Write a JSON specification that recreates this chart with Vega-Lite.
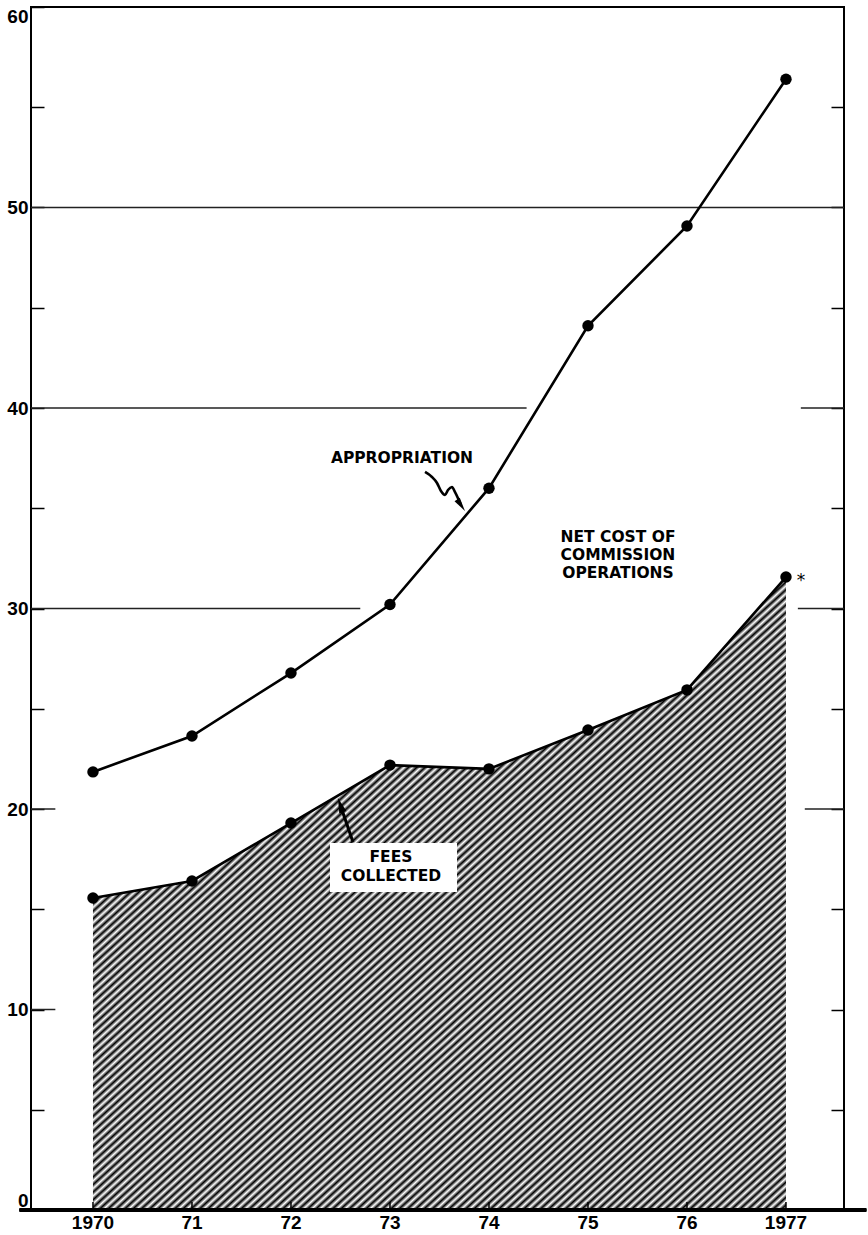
{
  "$schema": "https://vega.github.io/schema/vega-lite/v6.json",
  "width": 813,
  "height": 1203,
  "autosize": {"type": "none"},
  "padding": {"left": 31, "top": 7, "right": 24, "bottom": 25},
  "background": "white",
  "config": {
    "view": {"stroke": "black", "strokeWidth": 2},
    "axis": {
      "labelFont": "Liberation Sans Narrow, Liberation Sans, sans-serif",
      "labelFontWeight": "bold",
      "labelFontSize": 19,
      "labelColor": "black",
      "tickColor": "black",
      "domain": false,
      "grid": false,
      "title": null
    }
  },
  "datasets": {
    "series": [
      {"year": 1970, "label": "1970", "appropriation": 21.85, "fees": 15.56},
      {"year": 1971, "label": "71", "appropriation": 23.64, "fees": 16.41},
      {"year": 1972, "label": "72", "appropriation": 26.78, "fees": 19.3},
      {"year": 1973, "label": "73", "appropriation": 30.2, "fees": 22.19},
      {"year": 1974, "label": "74", "appropriation": 36.0, "fees": 22.0},
      {"year": 1975, "label": "75", "appropriation": 44.1, "fees": 23.94},
      {"year": 1976, "label": "76", "appropriation": 49.08, "fees": 25.94},
      {"year": 1977, "label": "1977", "appropriation": 56.4, "fees": 31.57}
    ],
    "grid": [
      {"y": 50, "x1": 1969.374, "x2": 1977.586},
      {"y": 40, "x1": 1969.374, "x2": 1974.38},
      {"y": 40, "x1": 1977.15, "x2": 1977.586},
      {"y": 30, "x1": 1969.374, "x2": 1972.7},
      {"y": 30, "x1": 1977.12, "x2": 1977.586},
      {"y": 20, "x1": 1969.374, "x2": 1969.62},
      {"y": 20, "x1": 1977.19, "x2": 1977.586},
      {"y": 10, "x1": 1969.374, "x2": 1969.62}
    ],
    "box": [{"x1": 1972.394, "x2": 1973.677, "y1": 18.3, "y2": 15.86}],
    "notes": [
      {"x": 1973.121, "y": 37.53, "label": "APPROPRIATION"},
      {"x": 1975.303, "y": 33.58, "label": "NET COST OF"},
      {"x": 1975.303, "y": 32.68, "label": "COMMISSION"},
      {"x": 1975.303, "y": 31.78, "label": "OPERATIONS"},
      {"x": 1973.01, "y": 17.6, "label": "FEES"},
      {"x": 1973.01, "y": 16.66, "label": "COLLECTED"}
    ],
    "squiggle": [
      {"i": 0, "x": 1973.354, "y": 36.81},
      {"i": 1, "x": 1973.424, "y": 36.56},
      {"i": 2, "x": 1973.475, "y": 36.26},
      {"i": 3, "x": 1973.515, "y": 35.86},
      {"i": 4, "x": 1973.556, "y": 35.66},
      {"i": 5, "x": 1973.586, "y": 35.91},
      {"i": 6, "x": 1973.626, "y": 36.06},
      {"i": 7, "x": 1973.657, "y": 35.81},
      {"i": 8, "x": 1973.717, "y": 35.16}
    ],
    "feesArrow": [
      {"i": 0, "x": 1972.626, "y": 18.35},
      {"i": 1, "x": 1972.499, "y": 20.19}
    ],
    "headA": [{"x": 1973.718, "y": 35.15}],
    "headF": [{"x": 1972.499, "y": 20.19}]
  },
  "layer": [
    {
      "data": {"name": "series"},
      "mark": {
        "type": "area",
        "fillOpacity": 1,
        "fill": {
          "gradient": "linear",
          "x1": 0, "y1": 0, "x2": 1, "y2": 1,
          "stops": [
{"offset":0,"color":"#000"},{"offset":0.003,"color":"#fff"},{"offset":0.006,"color":"#000"},{"offset":0.009,"color":"#fff"},{"offset":0.012,"color":"#000"},{"offset":0.015,"color":"#fff"},{"offset":0.018,"color":"#000"},{"offset":0.021,"color":"#fff"},{"offset":0.024,"color":"#000"},{"offset":0.027,"color":"#fff"},
{"offset":0.03,"color":"#000"},{"offset":0.033,"color":"#fff"},{"offset":0.036,"color":"#000"},{"offset":0.039,"color":"#fff"},{"offset":0.042,"color":"#000"},{"offset":0.045,"color":"#fff"},{"offset":0.048,"color":"#000"},{"offset":0.051,"color":"#fff"},{"offset":0.054,"color":"#000"},{"offset":0.057,"color":"#fff"},
{"offset":0.06,"color":"#000"},{"offset":0.063,"color":"#fff"},{"offset":0.066,"color":"#000"},{"offset":0.069,"color":"#fff"},{"offset":0.072,"color":"#000"},{"offset":0.075,"color":"#fff"},{"offset":0.078,"color":"#000"},{"offset":0.081,"color":"#fff"},{"offset":0.084,"color":"#000"},{"offset":0.087,"color":"#fff"},
{"offset":0.09,"color":"#000"},{"offset":0.093,"color":"#fff"},{"offset":0.096,"color":"#000"},{"offset":0.099,"color":"#fff"},{"offset":0.102,"color":"#000"},{"offset":0.105,"color":"#fff"},{"offset":0.108,"color":"#000"},{"offset":0.111,"color":"#fff"},{"offset":0.114,"color":"#000"},{"offset":0.117,"color":"#fff"},
{"offset":0.12,"color":"#000"},{"offset":0.123,"color":"#fff"},{"offset":0.126,"color":"#000"},{"offset":0.129,"color":"#fff"},{"offset":0.132,"color":"#000"},{"offset":0.135,"color":"#fff"},{"offset":0.138,"color":"#000"},{"offset":0.141,"color":"#fff"},{"offset":0.144,"color":"#000"},{"offset":0.147,"color":"#fff"},
{"offset":0.15,"color":"#000"},{"offset":0.153,"color":"#fff"},{"offset":0.156,"color":"#000"},{"offset":0.159,"color":"#fff"},{"offset":0.162,"color":"#000"},{"offset":0.165,"color":"#fff"},{"offset":0.168,"color":"#000"},{"offset":0.171,"color":"#fff"},{"offset":0.174,"color":"#000"},{"offset":0.177,"color":"#fff"},
{"offset":0.18,"color":"#000"},{"offset":0.183,"color":"#fff"},{"offset":0.186,"color":"#000"},{"offset":0.189,"color":"#fff"},{"offset":0.192,"color":"#000"},{"offset":0.195,"color":"#fff"},{"offset":0.198,"color":"#000"},{"offset":0.201,"color":"#fff"},{"offset":0.204,"color":"#000"},{"offset":0.207,"color":"#fff"},
{"offset":0.21,"color":"#000"},{"offset":0.213,"color":"#fff"},{"offset":0.216,"color":"#000"},{"offset":0.219,"color":"#fff"},{"offset":0.222,"color":"#000"},{"offset":0.225,"color":"#fff"},{"offset":0.228,"color":"#000"},{"offset":0.231,"color":"#fff"},{"offset":0.234,"color":"#000"},{"offset":0.237,"color":"#fff"},
{"offset":0.24,"color":"#000"},{"offset":0.243,"color":"#fff"},{"offset":0.246,"color":"#000"},{"offset":0.249,"color":"#fff"},{"offset":0.252,"color":"#000"},{"offset":0.255,"color":"#fff"},{"offset":0.258,"color":"#000"},{"offset":0.261,"color":"#fff"},{"offset":0.264,"color":"#000"},{"offset":0.267,"color":"#fff"},
{"offset":0.27,"color":"#000"},{"offset":0.273,"color":"#fff"},{"offset":0.276,"color":"#000"},{"offset":0.279,"color":"#fff"},{"offset":0.282,"color":"#000"},{"offset":0.285,"color":"#fff"},{"offset":0.288,"color":"#000"},{"offset":0.291,"color":"#fff"},{"offset":0.294,"color":"#000"},{"offset":0.297,"color":"#fff"},
{"offset":0.3,"color":"#000"},{"offset":0.303,"color":"#fff"},{"offset":0.306,"color":"#000"},{"offset":0.309,"color":"#fff"},{"offset":0.312,"color":"#000"},{"offset":0.315,"color":"#fff"},{"offset":0.318,"color":"#000"},{"offset":0.321,"color":"#fff"},{"offset":0.324,"color":"#000"},{"offset":0.327,"color":"#fff"},
{"offset":0.33,"color":"#000"},{"offset":0.333,"color":"#fff"},{"offset":0.336,"color":"#000"},{"offset":0.339,"color":"#fff"},{"offset":0.342,"color":"#000"},{"offset":0.345,"color":"#fff"},{"offset":0.348,"color":"#000"},{"offset":0.351,"color":"#fff"},{"offset":0.354,"color":"#000"},{"offset":0.357,"color":"#fff"},
{"offset":0.36,"color":"#000"},{"offset":0.363,"color":"#fff"},{"offset":0.366,"color":"#000"},{"offset":0.369,"color":"#fff"},{"offset":0.372,"color":"#000"},{"offset":0.375,"color":"#fff"},{"offset":0.378,"color":"#000"},{"offset":0.381,"color":"#fff"},{"offset":0.384,"color":"#000"},{"offset":0.387,"color":"#fff"},
{"offset":0.39,"color":"#000"},{"offset":0.393,"color":"#fff"},{"offset":0.396,"color":"#000"},{"offset":0.399,"color":"#fff"},{"offset":0.402,"color":"#000"},{"offset":0.405,"color":"#fff"},{"offset":0.408,"color":"#000"},{"offset":0.411,"color":"#fff"},{"offset":0.414,"color":"#000"},{"offset":0.417,"color":"#fff"},
{"offset":0.42,"color":"#000"},{"offset":0.423,"color":"#fff"},{"offset":0.426,"color":"#000"},{"offset":0.429,"color":"#fff"},{"offset":0.432,"color":"#000"},{"offset":0.435,"color":"#fff"},{"offset":0.438,"color":"#000"},{"offset":0.441,"color":"#fff"},{"offset":0.444,"color":"#000"},{"offset":0.447,"color":"#fff"},
{"offset":0.45,"color":"#000"},{"offset":0.453,"color":"#fff"},{"offset":0.456,"color":"#000"},{"offset":0.459,"color":"#fff"},{"offset":0.462,"color":"#000"},{"offset":0.465,"color":"#fff"},{"offset":0.468,"color":"#000"},{"offset":0.471,"color":"#fff"},{"offset":0.474,"color":"#000"},{"offset":0.477,"color":"#fff"},
{"offset":0.48,"color":"#000"},{"offset":0.483,"color":"#fff"},{"offset":0.486,"color":"#000"},{"offset":0.489,"color":"#fff"},{"offset":0.492,"color":"#000"},{"offset":0.495,"color":"#fff"},{"offset":0.498,"color":"#000"},{"offset":0.501,"color":"#fff"},{"offset":0.504,"color":"#000"},{"offset":0.507,"color":"#fff"},
{"offset":0.51,"color":"#000"},{"offset":0.513,"color":"#fff"},{"offset":0.516,"color":"#000"},{"offset":0.519,"color":"#fff"},{"offset":0.522,"color":"#000"},{"offset":0.525,"color":"#fff"},{"offset":0.528,"color":"#000"},{"offset":0.531,"color":"#fff"},{"offset":0.534,"color":"#000"},{"offset":0.537,"color":"#fff"},
{"offset":0.54,"color":"#000"},{"offset":0.543,"color":"#fff"},{"offset":0.546,"color":"#000"},{"offset":0.549,"color":"#fff"},{"offset":0.552,"color":"#000"},{"offset":0.555,"color":"#fff"},{"offset":0.558,"color":"#000"},{"offset":0.561,"color":"#fff"},{"offset":0.564,"color":"#000"},{"offset":0.567,"color":"#fff"},
{"offset":0.57,"color":"#000"},{"offset":0.573,"color":"#fff"},{"offset":0.576,"color":"#000"},{"offset":0.579,"color":"#fff"},{"offset":0.582,"color":"#000"},{"offset":0.585,"color":"#fff"},{"offset":0.588,"color":"#000"},{"offset":0.591,"color":"#fff"},{"offset":0.594,"color":"#000"},{"offset":0.597,"color":"#fff"},
{"offset":0.6,"color":"#000"},{"offset":0.603,"color":"#fff"},{"offset":0.606,"color":"#000"},{"offset":0.609,"color":"#fff"},{"offset":0.612,"color":"#000"},{"offset":0.615,"color":"#fff"},{"offset":0.618,"color":"#000"},{"offset":0.621,"color":"#fff"},{"offset":0.624,"color":"#000"},{"offset":0.627,"color":"#fff"},
{"offset":0.63,"color":"#000"},{"offset":0.633,"color":"#fff"},{"offset":0.636,"color":"#000"},{"offset":0.639,"color":"#fff"},{"offset":0.642,"color":"#000"},{"offset":0.645,"color":"#fff"},{"offset":0.648,"color":"#000"},{"offset":0.651,"color":"#fff"},{"offset":0.654,"color":"#000"},{"offset":0.657,"color":"#fff"},
{"offset":0.66,"color":"#000"},{"offset":0.663,"color":"#fff"},{"offset":0.666,"color":"#000"},{"offset":0.669,"color":"#fff"},{"offset":0.672,"color":"#000"},{"offset":0.675,"color":"#fff"},{"offset":0.678,"color":"#000"},{"offset":0.681,"color":"#fff"},{"offset":0.684,"color":"#000"},{"offset":0.687,"color":"#fff"},
{"offset":0.69,"color":"#000"},{"offset":0.693,"color":"#fff"},{"offset":0.696,"color":"#000"},{"offset":0.699,"color":"#fff"},{"offset":0.702,"color":"#000"},{"offset":0.705,"color":"#fff"},{"offset":0.708,"color":"#000"},{"offset":0.711,"color":"#fff"},{"offset":0.714,"color":"#000"},{"offset":0.717,"color":"#fff"},
{"offset":0.72,"color":"#000"},{"offset":0.723,"color":"#fff"},{"offset":0.726,"color":"#000"},{"offset":0.729,"color":"#fff"},{"offset":0.732,"color":"#000"},{"offset":0.735,"color":"#fff"},{"offset":0.738,"color":"#000"},{"offset":0.741,"color":"#fff"},{"offset":0.744,"color":"#000"},{"offset":0.747,"color":"#fff"},
{"offset":0.75,"color":"#000"},{"offset":0.753,"color":"#fff"},{"offset":0.756,"color":"#000"},{"offset":0.759,"color":"#fff"},{"offset":0.762,"color":"#000"},{"offset":0.765,"color":"#fff"},{"offset":0.768,"color":"#000"},{"offset":0.771,"color":"#fff"},{"offset":0.774,"color":"#000"},{"offset":0.777,"color":"#fff"},
{"offset":0.78,"color":"#000"},{"offset":0.783,"color":"#fff"},{"offset":0.786,"color":"#000"},{"offset":0.789,"color":"#fff"},{"offset":0.792,"color":"#000"},{"offset":0.795,"color":"#fff"},{"offset":0.798,"color":"#000"},{"offset":0.801,"color":"#fff"},{"offset":0.804,"color":"#000"},{"offset":0.807,"color":"#fff"},
{"offset":0.81,"color":"#000"},{"offset":0.813,"color":"#fff"},{"offset":0.816,"color":"#000"},{"offset":0.819,"color":"#fff"},{"offset":0.822,"color":"#000"},{"offset":0.825,"color":"#fff"},{"offset":0.828,"color":"#000"},{"offset":0.831,"color":"#fff"},{"offset":0.834,"color":"#000"},{"offset":0.837,"color":"#fff"},
{"offset":0.84,"color":"#000"},{"offset":0.843,"color":"#fff"},{"offset":0.846,"color":"#000"},{"offset":0.849,"color":"#fff"},{"offset":0.852,"color":"#000"},{"offset":0.855,"color":"#fff"},{"offset":0.858,"color":"#000"},{"offset":0.861,"color":"#fff"},{"offset":0.864,"color":"#000"},{"offset":0.867,"color":"#fff"},
{"offset":0.87,"color":"#000"},{"offset":0.873,"color":"#fff"},{"offset":0.876,"color":"#000"},{"offset":0.879,"color":"#fff"},{"offset":0.882,"color":"#000"},{"offset":0.885,"color":"#fff"},{"offset":0.888,"color":"#000"},{"offset":0.891,"color":"#fff"},{"offset":0.894,"color":"#000"},{"offset":0.897,"color":"#fff"},
{"offset":0.9,"color":"#000"},{"offset":0.903,"color":"#fff"},{"offset":0.906,"color":"#000"},{"offset":0.909,"color":"#fff"},{"offset":0.912,"color":"#000"},{"offset":0.915,"color":"#fff"},{"offset":0.918,"color":"#000"},{"offset":0.921,"color":"#fff"},{"offset":0.924,"color":"#000"},{"offset":0.927,"color":"#fff"},
{"offset":0.93,"color":"#000"},{"offset":0.933,"color":"#fff"},{"offset":0.936,"color":"#000"},{"offset":0.939,"color":"#fff"},{"offset":0.942,"color":"#000"},{"offset":0.945,"color":"#fff"},{"offset":0.948,"color":"#000"},{"offset":0.951,"color":"#fff"},{"offset":0.954,"color":"#000"},{"offset":0.957,"color":"#fff"},
{"offset":0.96,"color":"#000"},{"offset":0.963,"color":"#fff"},{"offset":0.966,"color":"#000"},{"offset":0.969,"color":"#fff"},{"offset":0.972,"color":"#000"},{"offset":0.975,"color":"#fff"},{"offset":0.978,"color":"#000"},{"offset":0.981,"color":"#fff"},{"offset":0.984,"color":"#000"},{"offset":0.987,"color":"#fff"},
{"offset":0.99,"color":"#000"},{"offset":0.993,"color":"#fff"},{"offset":0.996,"color":"#000"},{"offset":0.999,"color":"#fff"},{"offset":1,"color":"#fff"}
          ]
        }
      },
      "encoding": {
        "x": {
          "field": "year", "type": "quantitative",
          "scale": {"domain": [1969.374, 1977.586], "nice": false, "zero": false},
          "axis": null
        },
        "y": {
          "field": "fees", "type": "quantitative",
          "stack": null,
          "scale": {"domain": [0, 60], "nice": false, "zero": false},
          "axis": {
            "orient": "left",
            "values": [0, 5, 10, 15, 20, 25, 30, 35, 40, 45, 50, 55, 60],
            "format": "d",
            "labelExpr": "datum.value % 10 == 0 ? datum.label : ''",
            "labelFlush": true,
            "tickSize": -13,
            "tickWidth": 1.5,
            "labelPadding": 16
          }
        }
      }
    },
    {
      "data": {"name": "box"},
      "mark": {"type": "rect", "fill": "white", "stroke": null},
      "encoding": {
        "x": {"field": "x1", "type": "quantitative", "axis": null},
        "x2": {"field": "x2"},
        "y": {"field": "y1", "type": "quantitative", "axis": null},
        "y2": {"field": "y2"}
      }
    },
    {
      "data": {"name": "grid"},
      "mark": {"type": "rule", "color": "#222", "strokeWidth": 1.5},
      "encoding": {
        "x": {"field": "x1", "type": "quantitative", "axis": null},
        "x2": {"field": "x2"},
        "y": {
          "field": "y", "type": "quantitative",
          "axis": {
            "orient": "right",
            "values": [5, 10, 15, 20, 25, 30, 35, 40, 45, 50, 55],
            "labels": false,
            "tickSize": -13,
            "tickWidth": 1.5
          }
        }
      }
    },
    {
      "data": {"name": "series"},
      "mark": {"type": "rule", "color": "black", "strokeWidth": 1.5},
      "encoding": {
        "x": {"field": "year", "type": "quantitative", "axis": null},
        "y": {"datum": 0, "type": "quantitative", "axis": null},
        "y2": {"datum": 0.4}
      }
    },
    {
      "data": {"name": "series"},
      "mark": {"type": "rule", "color": "black", "strokeWidth": 3},
      "encoding": {
        "x": {"datum": 1969.26, "type": "quantitative", "axis": null},
        "x2": {"datum": 1977.81},
        "y": {"datum": 0, "type": "quantitative", "axis": null}
      }
    },
    {
      "data": {"name": "series"},
      "mark": {"type": "text", "font": "Liberation Sans Narrow, Liberation Sans, sans-serif", "fontWeight": "bold", "fontSize": 19, "align": "center", "baseline": "top", "dy": 4, "color": "black"},
      "encoding": {
        "x": {"field": "year", "type": "quantitative", "axis": null},
        "y": {"datum": 0, "type": "quantitative", "axis": null},
        "text": {"field": "label"}
      }
    },
    {
      "data": {"name": "series"},
      "mark": {"type": "line", "color": "black", "strokeWidth": 2.6},
      "encoding": {
        "x": {"field": "year", "type": "quantitative", "axis": null},
        "y": {"field": "appropriation", "type": "quantitative", "axis": null}
      }
    },
    {
      "data": {"name": "series"},
      "mark": {"type": "circle", "color": "black", "opacity": 1, "size": 130},
      "encoding": {
        "x": {"field": "year", "type": "quantitative", "axis": null},
        "y": {"field": "appropriation", "type": "quantitative", "axis": null}
      }
    },
    {
      "data": {"name": "series"},
      "mark": {"type": "line", "color": "black", "strokeWidth": 2.6},
      "encoding": {
        "x": {"field": "year", "type": "quantitative", "axis": null},
        "y": {"field": "fees", "type": "quantitative", "axis": null}
      }
    },
    {
      "data": {"name": "series"},
      "mark": {"type": "circle", "color": "black", "opacity": 1, "size": 130},
      "encoding": {
        "x": {"field": "year", "type": "quantitative", "axis": null},
        "y": {"field": "fees", "type": "quantitative", "axis": null}
      }
    },
    {
      "data": {"name": "series"},
      "transform": [{"filter": "datum.year == 1977"}],
      "mark": {"type": "text", "text": "*", "font": "DejaVu Sans", "fontSize": 17, "dx": 15, "dy": 4, "color": "black"},
      "encoding": {
        "x": {"field": "year", "type": "quantitative", "axis": null},
        "y": {"field": "fees", "type": "quantitative", "axis": null}
      }
    },
    {
      "data": {"name": "squiggle"},
      "mark": {"type": "line", "color": "black", "strokeWidth": 2.6, "interpolate": "monotone"},
      "encoding": {
        "x": {"field": "x", "type": "quantitative", "axis": null},
        "y": {"field": "y", "type": "quantitative", "axis": null},
        "order": {"field": "i"}
      }
    },
    {
      "data": {"name": "headA"},
      "mark": {"type": "point", "shape": "M0,-1L0.45,1L-0.45,1Z", "filled": true, "color": "black", "opacity": 1, "size": 196, "angle": 146},
      "encoding": {
        "x": {"field": "x", "type": "quantitative", "axis": null},
        "y": {"field": "y", "type": "quantitative", "axis": null}
      }
    },
    {
      "data": {"name": "feesArrow"},
      "mark": {"type": "line", "color": "black", "strokeWidth": 3},
      "encoding": {
        "x": {"field": "x", "type": "quantitative", "axis": null},
        "y": {"field": "y", "type": "quantitative", "axis": null},
        "order": {"field": "i"}
      }
    },
    {
      "data": {"name": "headF"},
      "mark": {"type": "point", "shape": "M0,-1L0.5,1L-0.5,1Z", "filled": true, "color": "black", "opacity": 1, "size": 225, "angle": -19},
      "encoding": {
        "x": {"field": "x", "type": "quantitative", "axis": null},
        "y": {"field": "y", "type": "quantitative", "axis": null}
      }
    },
    {
      "data": {"name": "notes"},
      "mark": {"type": "text", "font": "DejaVu Sans", "fontWeight": "bold", "fontSize": 15.5, "align": "center", "baseline": "middle", "color": "black"},
      "encoding": {
        "x": {"field": "x", "type": "quantitative", "axis": null},
        "y": {"field": "y", "type": "quantitative", "axis": null},
        "text": {"field": "label"}
      }
    }
  ]
}
